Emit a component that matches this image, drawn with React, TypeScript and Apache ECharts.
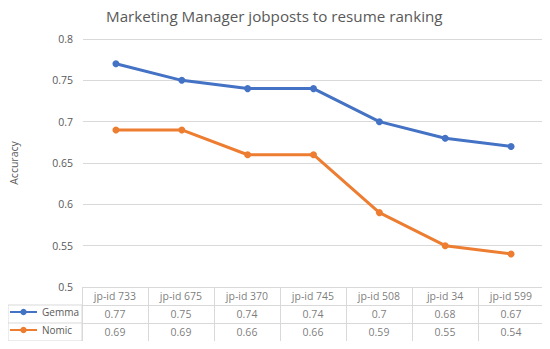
import React, { useEffect, useRef } from "react";
import * as echarts from "echarts";

const categories = ["jp-id 733", "jp-id 675", "jp-id 370", "jp-id 745", "jp-id 508", "jp-id 34", "jp-id 599"];
const gemma = [0.77, 0.75, 0.74, 0.74, 0.7, 0.68, 0.67];
const nomic = [0.69, 0.69, 0.66, 0.66, 0.59, 0.55, 0.54];
const seriesNames = ["Gemma", "Nomic"];
const yTicks = { min: 0.5, max: 0.8, interval: 0.05 };

const FONT = "Open Sans";
const TXT = "#595959";
const GRIDC = "#d9d9d9";
const BLUE = "#4472c4";
const ORANGE = "#ed7d31";

// layout
const W = 550;
const H = 349;
const PL = 82;
const PR = 6;
const PT = 39;
const PB = 287;
const ROW = 18;
const LEG_H = 8;

export default function App() {
  const ref = useRef<HTMLDivElement>(null);
  useEffect(() => {
    if (!ref.current) return;
    const chart = echarts.init(ref.current, null, { renderer: "svg" });
    const tableRows = ["hdr", ...seriesNames];
    const tableData = (vals: number[], row: string) => vals.map((v, i) => [categories[i], row, v]);
    chart.setOption({
      animation: false,
      backgroundColor: "#fff",
      textStyle: { fontFamily: FONT },
      title: {
        text: "Marketing Manager jobposts to resume ranking",
        left: 101,
        top: 3,
        textStyle: { fontFamily: FONT, fontSize: 15.2, fontWeight: "normal", color: TXT },
      },
      legend: seriesNames.map((name, i) => ({
        data: [name],
        orient: "vertical",
        left: 9,
        top: PB + ROW * (i + 1) + (ROW - 14) / 2,
        itemWidth: 27,
        itemHeight: LEG_H,
        padding: 0,
        textStyle: { fontFamily: FONT, fontSize: 10, color: TXT },
        selectedMode: false,
      })),
      grid: [
        { left: PL, right: PR, top: PT, height: PB - PT },
        { left: PL, right: PR, top: PB, height: ROW * 3 },
      ],
      xAxis: [
        {
          type: "category",
          gridIndex: 0,
          data: categories,
          boundaryGap: true,
          axisLabel: { show: false },
          axisTick: { show: false },
          axisLine: { show: true, lineStyle: { color: GRIDC } },
        },
        {
          type: "category",
          gridIndex: 1,
          data: categories,
          boundaryGap: true,
          position: "top",
          axisLabel: { show: false },
          axisTick: { show: false },
          axisLine: { show: false },
          splitLine: { show: true, lineStyle: { color: GRIDC } },
        },
      ],
      yAxis: [
        {
          type: "value",
          gridIndex: 0,
          min: yTicks.min,
          max: yTicks.max,
          interval: yTicks.interval,
          name: "Accuracy",
          nameLocation: "middle",
          nameGap: 64,
          nameTextStyle: { fontFamily: FONT, fontSize: 10.5, color: TXT },
          axisLabel: { color: TXT, fontSize: 10.5, margin: 10, fontFamily: FONT },
          axisLine: { show: false },
          axisTick: { show: false },
          splitLine: { lineStyle: { color: GRIDC } },
        },
        {
          type: "category",
          gridIndex: 1,
          data: tableRows,
          inverse: true,
          boundaryGap: true,
          axisLabel: { show: false },
          axisTick: { show: false },
          axisLine: { show: false },
          splitLine: { show: true, lineStyle: { color: GRIDC } },
        },
      ],
      graphic: [
        {
          type: "rect",
          shape: { x: 8, y: PB + ROW, width: PL - 8, height: ROW * 2 },
          style: { fill: "none", stroke: GRIDC, lineWidth: 1 },
          silent: true,
        },
        {
          type: "line",
          shape: { x1: 8, y1: PB + ROW * 2, x2: PL, y2: PB + ROW * 2 },
          style: { stroke: GRIDC, lineWidth: 1 },
          silent: true,
        },
      ],
      series: [
        {
          name: seriesNames[0],
          type: "line",
          xAxisIndex: 0,
          yAxisIndex: 0,
          data: gemma,
          symbol: "circle",
          symbolSize: 7,
          lineStyle: { color: BLUE, width: 3 },
          itemStyle: { color: BLUE },
        },
        {
          name: seriesNames[1],
          type: "line",
          xAxisIndex: 0,
          yAxisIndex: 0,
          data: nomic,
          symbol: "circle",
          symbolSize: 7,
          lineStyle: { color: ORANGE, width: 3 },
          itemStyle: { color: ORANGE },
        },
        ...[
          { row: "hdr", vals: null as number[] | null },
          { row: seriesNames[0], vals: gemma },
          { row: seriesNames[1], vals: nomic },
        ].map((r) => ({
          name: "table-" + r.row,
          type: "scatter",
          xAxisIndex: 1,
          yAxisIndex: 1,
          silent: true,
          symbolSize: 1,
          itemStyle: { color: "rgba(0,0,0,0)" },
          data: r.vals ? tableData(r.vals, r.row) : categories.map((c) => [c, r.row, c]),
          label: {
            show: true,
            position: "inside",
            color: TXT,
            fontSize: 10.5,
            fontFamily: FONT,
            formatter: (p: any) => String(p.value[2]),
          },
        })),
      ],
    });
    return () => chart.dispose();
  }, []);
  return <div ref={ref} style={{ width: W, height: H, margin: -8 }} />;
}
